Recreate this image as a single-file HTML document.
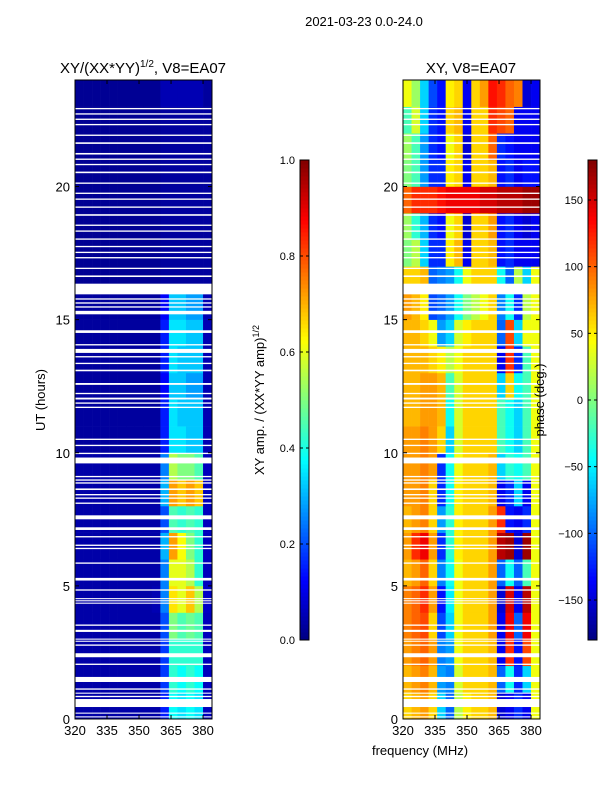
<!DOCTYPE html>
<html><head><meta charset="utf-8">
<style>
body{margin:0;background:#fff;}
svg{display:block;font-family:"Liberation Sans","DejaVu Sans",sans-serif;}
</style></head>
<body>
<svg id="fig" width="600" height="800" viewBox="0 0 600 800" xmlns="http://www.w3.org/2000/svg">
<rect width="600" height="800" fill="#fff"/>
<text x="364" y="26" font-size="13" text-anchor="middle">2021-03-23 0.0-24.0</text>
<g id="left"></g>
<g id="right"></g>
<text x="143" y="73" font-size="15" text-anchor="middle">XY/(XX*YY)<tspan font-size="10" dy="-6">1/2</tspan><tspan dy="6">, V8=EA07</tspan></text>
<text x="471" y="73" font-size="15" text-anchor="middle">XY, V8=EA07</text>
<text x="45" y="400" font-size="13" text-anchor="middle" transform="rotate(-90 45 400)">UT (hours)</text>
<text x="420" y="755" font-size="13" text-anchor="middle">frequency (MHz)</text>
<text x="264" y="400" font-size="13" text-anchor="middle" transform="rotate(-90 264 400)">XY amp. / (XX*YY amp)<tspan font-size="9" dy="-5">1/2</tspan></text>
<text x="544" y="400" font-size="13" text-anchor="middle" transform="rotate(-90 544 400)">phase (deg.)</text>
</svg>
<script>
const freqStart = [320,324,328,332,336,340,344,348,352,356,360,364,368,372,376,380];
const hours = [0,1,2,3,4,5,6,7,8,9,10,11,12,13,14,15,16,17,18,19,20,21,22,23];
const ampGrid = [
[.04,.04,.04,.04,.04,.04,.04,.04,.04,.04,.15,.38,.35,.38,.35,.06],
[.04,.04,.04,.04,.04,.04,.04,.04,.04,.04,.18,.42,.38,.42,.38,.06],
[.04,.04,.04,.04,.04,.04,.04,.04,.04,.04,.18,.42,.42,.42,.42,.06],
[.04,.04,.04,.04,.04,.04,.04,.04,.04,.04,.2,.5,.45,.48,.45,.06],
[.04,.04,.04,.04,.04,.04,.04,.04,.04,.05,.25,.65,.6,.68,.55,.07],
[.04,.04,.04,.04,.04,.04,.04,.04,.04,.04,.25,.6,.6,.55,.42,.06],
[.04,.04,.04,.04,.04,.04,.04,.04,.04,.04,.3,.72,.62,.5,.42,.06],
[.04,.04,.04,.04,.04,.04,.04,.04,.04,.04,.2,.45,.42,.45,.42,.06],
[.04,.04,.04,.04,.04,.04,.04,.04,.04,.04,.3,.72,.68,.72,.68,.06],
[.04,.04,.04,.04,.04,.04,.04,.04,.04,.04,.25,.55,.5,.5,.45,.06],
[.03,.03,.03,.03,.03,.03,.03,.03,.03,.03,.15,.35,.35,.32,.32,.05],
[.03,.03,.03,.03,.03,.03,.03,.03,.03,.03,.15,.35,.32,.32,.32,.05],
[.03,.03,.03,.03,.03,.03,.03,.03,.03,.03,.12,.32,.32,.28,.28,.05],
[.03,.03,.03,.03,.03,.03,.03,.03,.03,.03,.15,.35,.32,.32,.32,.05],
[.03,.03,.03,.03,.03,.03,.03,.03,.03,.03,.15,.35,.35,.32,.32,.05],
[.03,.03,.03,.03,.03,.03,.03,.03,.03,.03,.12,.32,.32,.28,.28,.05],
[.02,.02,.02,.02,.02,.02,.02,.02,.02,.02,.03,.03,.03,.03,.03,.03],
[.02,.02,.02,.02,.02,.02,.02,.02,.02,.02,.03,.03,.03,.03,.03,.03],
[.02,.02,.02,.02,.02,.02,.02,.02,.02,.02,.03,.03,.03,.03,.03,.03],
[.02,.02,.02,.02,.02,.02,.02,.02,.02,.02,.03,.03,.03,.03,.03,.03],
[.02,.02,.02,.02,.02,.02,.02,.02,.02,.02,.03,.03,.03,.03,.03,.03],
[.02,.02,.02,.02,.02,.02,.02,.02,.02,.02,.03,.03,.03,.03,.03,.03],
[.02,.02,.02,.02,.02,.02,.02,.02,.02,.02,.03,.03,.03,.03,.03,.03],
[.02,.02,.02,.02,.02,.02,.02,.02,.02,.02,.05,.05,.05,.05,.05,.03]];
const phaseGrid = [
[60,70,80,60,-60,-100,20,50,60,60,70,-150,-140,-120,-140,40],
[70,80,90,70,-80,-90,30,60,60,60,70,-100,-40,-120,-60,40],
[80,90,100,80,-90,-80,40,60,60,60,70,-140,120,-130,110,40],
[90,100,110,60,-110,-60,40,60,60,60,80,-140,140,-100,140,40],
[90,100,120,80,-130,-50,40,60,60,60,80,-150,150,-140,160,40],
[70,80,100,60,-90,-40,40,60,60,60,80,-100,-40,-100,-20,40],
[80,120,140,80,-120,-30,50,60,60,60,80,160,170,-150,170,40],
[70,80,90,60,-80,-30,50,60,60,60,80,120,-130,-140,-120,40],
[80,80,90,60,-120,-40,50,60,60,60,70,-140,-120,-60,-140,40],
[80,80,90,80,-120,-40,40,60,60,60,70,-60,-30,-40,-20,40],
[80,80,90,80,60,-60,30,60,60,60,60,-20,-40,-60,-20,40],
[70,70,80,80,70,-40,30,60,60,60,60,-20,-40,-60,-20,40],
[70,70,80,80,70,-20,30,60,60,60,60,-60,60,-40,-20,40],
[70,70,70,60,50,20,40,60,60,60,60,-140,120,-120,-20,40],
[70,70,60,40,-80,-60,30,50,60,60,60,-100,110,-60,40,40],
[80,70,50,-110,-100,-80,-40,0,20,40,60,-90,-40,-120,20,40],
[60,60,70,-100,-90,-80,-40,40,60,60,60,-40,-100,20,-60,40],
[0,20,-60,-120,-120,50,70,-140,60,60,70,-130,-120,-140,-140,-140],
[10,-30,-70,-120,-130,40,60,-150,60,60,80,-130,-120,-140,-150,-140],
[100,120,120,120,130,140,140,140,140,150,150,160,160,160,170,170],
[0,-20,-80,-120,-120,50,60,-140,60,60,70,-130,-120,-140,-130,-130],
[10,-20,-80,-120,-130,40,60,-150,60,60,100,-120,-130,-140,-140,-140],
[-20,30,-60,-120,-130,60,70,-140,60,60,120,110,100,-140,-140,-140],
[40,10,-60,-110,-130,50,60,-140,60,80,130,120,100,90,-150,-140]];
const gapStart = [0.06,0.2,0.45,0.82,0.95,1.1,1.39,2.03,2.32,2.75,2.9,2.98,3.27,3.5,4.33,4.42,4.5,4.82,5.2,5.83,6.38,6.5,6.82,7.1,7.5,8.08,8.27,8.4,8.6,8.84,8.95,9.08,9.6,9.95,10.25,10.48,11.68,11.84,12.0,12.2,12.55,13.06,13.33,13.58,13.75,14.03,14.5,15.2,15.45,15.6,15.75,15.95,16.6,16.9,17.3,17.5,17.72,18.0,18.3,18.52,18.9,19.2,19.5,19.72,20.1,20.5,20.8,21.0,21.2,21.6,21.9,22.3,22.5,22.7,22.9];
const gapEnd   = [0.1,0.24,0.75,0.87,0.99,1.15,1.58,2.08,2.47,2.8,2.94,3.02,3.35,3.55,4.37,4.46,4.54,4.87,5.3,5.88,6.43,6.55,6.87,7.2,7.65,8.13,8.32,8.45,8.66,8.89,9.0,9.13,9.82,10.0,10.3,10.53,11.73,11.89,12.07,12.25,12.62,13.12,13.38,13.63,13.9,14.08,14.6,15.33,15.5,15.65,15.8,16.35,16.66,16.95,17.35,17.55,17.77,18.05,18.35,18.57,18.96,19.25,19.55,19.77,20.15,20.56,20.85,21.05,21.26,21.66,21.95,22.35,22.55,22.75,22.95];
const xTicks = [320,335,350,365,380];
const yTicks = [0,5,10,15,20];
const ampTicks = [0.0,0.2,0.4,0.6,0.8,1.0];
const phaseTicks = [-150,-100,-50,0,50,100,150];

const NS="http://www.w3.org/2000/svg";
function mk(tag,attrs,parent){const e=document.createElementNS(NS,tag);for(const k in attrs)e.setAttribute(k,attrs[k]);parent.appendChild(e);return e;}
function jet(v){v=Math.max(0,Math.min(1,v));
 const r=Math.max(0,Math.min(1,1.5-Math.abs(4*v-3))),g=Math.max(0,Math.min(1,1.5-Math.abs(4*v-2))),b=Math.max(0,Math.min(1,1.5-Math.abs(4*v-1)));
 return `rgb(${Math.round(r*255)},${Math.round(g*255)},${Math.round(b*255)})`;}
const Y0=719,Y1=80,FMIN=320,FMAX=384.2,TMIN=0,TMAX=24;
function yScale(t){return Y0-(t-TMIN)/(TMAX-TMIN)*(Y0-Y1);}
function panel(g,x0,x1,grid,norm,cellName){
 const xs=f=>x0+(f-FMIN)/(FMAX-FMIN)*(x1-x0);
 hours.forEach((h,r)=>{freqStart.forEach((f,c)=>{
  const fe=Math.min(f+4,FMAX);
  const el=mk('rect',{x:xs(f),y:yScale(h+1),width:xs(fe)-xs(f)+0.3,height:yScale(h)-yScale(h+1)+0.3,fill:jet(norm(grid[r][c]))},g);
  
  
 });});
 gapStart.forEach((s,i)=>{
  const el=mk('rect',{x:x0,y:yScale(gapEnd[i]),width:x1-x0,height:yScale(s)-yScale(gapEnd[i]),fill:'#fff'},g);
  
  
 });
 mk('rect',{x:x0,y:Y1,width:x1-x0,height:Y0-Y1,fill:'none',stroke:'#000','stroke-width':1},g);
 xTicks.forEach(t=>{const x=xs(t);
  mk('line',{x1:x,x2:x,y1:Y0,y2:Y0-4,stroke:'#000'},g);mk('line',{x1:x,x2:x,y1:Y1,y2:Y1+4,stroke:'#000'},g);
  const tx=mk('text',{x:x,y:Y0+16,'font-size':13,'text-anchor':'middle'},g);tx.textContent=t;
  
  });
 yTicks.forEach(t=>{const y=yScale(t);
  mk('line',{x1:x0,x2:x0+4,y1:y,y2:y,stroke:'#000'},g);mk('line',{x1:x1,x2:x1-4,y1:y,y2:y,stroke:'#000'},g);
  const tx=mk('text',{x:x0-5,y:y+5,'font-size':13,'text-anchor':'end'},g);tx.textContent=t;
  
  });
}
function colorbar(svg,x,ticks,vmin,vmax,fmt,name){
 const g=mk('g',{},svg);
 
 
 const top=160,bot=640,N=120;
 for(let i=0;i<N;i++){const v=(i+0.5)/N;mk('rect',{x:x,y:bot-(i+1)*(bot-top)/N,width:9,height:(bot-top)/N+0.5,fill:jet(v)},g);}
 mk('rect',{x:x,y:top,width:9,height:bot-top,fill:'none',stroke:'#000'},g);
 ticks.forEach(t=>{const y=bot-(t-vmin)/(vmax-vmin)*(bot-top);
  mk('line',{x1:x,x2:x+3,y1:y,y2:y,stroke:'#000'},g);mk('line',{x1:x+9,x2:x+6,y1:y,y2:y,stroke:'#000'},g);
  const tx=mk('text',{x:x-5,y:y+4,'font-size':11,'text-anchor':'end'},g);tx.textContent=fmt(t);
  
  });
}
const svg=document.getElementById('fig');
panel(document.getElementById('left'),75,212,ampGrid,v=>v,'amp-cell');
panel(document.getElementById('right'),403,540,phaseGrid,v=>(v+180)/360,'phase-cell');
colorbar(svg,300,ampTicks,0,1,t=>t.toFixed(1),'amp-colorbar');
colorbar(svg,588,phaseTicks,-180,180,t=>(t<0?'\u2212'+(-t):''+t),'phase-colorbar');
</script>
</body></html>
